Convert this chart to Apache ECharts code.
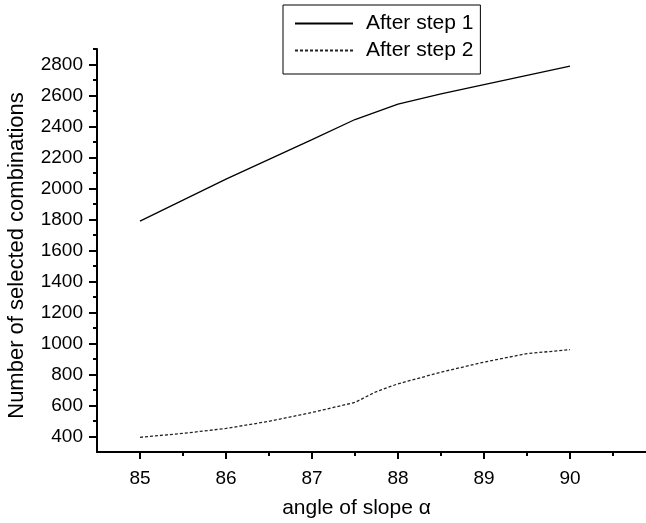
<!DOCTYPE html>
<html>
<head>
<meta charset="utf-8">
<script src="https://cdn.jsdelivr.net/npm/echarts@6/dist/echarts.min.js"></script>
<style>html,body{margin:0;padding:0;background:#fff}#chart{width:646px;height:523px}</style>
</head>
<body>
<div id="chart"></div>
<script>
// Data
const angles1 = [85, 86, 87, 87.5, 88, 88.5, 89, 89.5, 90];
const step1 = [1790, 2060, 2315, 2445, 2545, 2610, 2670, 2730, 2790];
const angles2 = [85, 85.5, 86, 86.5, 87, 87.5, 87.75, 88, 88.5, 89, 89.5, 90];
const step2 = [395, 420, 452, 498, 555, 620, 690, 740, 815, 880, 935, 960];
const xTickLabels = [85, 86, 87, 88, 89, 90];
const xMinorTicks = [85.5, 86.5, 87.5, 88.5, 89.5, 90.5];
const yTickLabels = [400, 600, 800, 1000, 1200, 1400, 1600, 1800, 2000, 2200, 2400, 2600, 2800];
const yMinorTicks = [500, 700, 900, 1100, 1300, 1500, 1700, 1900, 2100, 2300, 2500, 2700, 2900];
const seriesNames = ['After step 1', 'After step 2'];

const FONT = "'Liberation Sans', Arial, Helvetica, sans-serif";
const chart = echarts.init(document.getElementById('chart'), null, {renderer: 'canvas'});
const plain = v => String(v);
const xBase = {type: 'value', min: 84.5, max: 91, splitLine: {show: false}};
const yBase = {type: 'value', min: 300, max: 2900, splitLine: {show: false}};
chart.setOption({
  animation: false,
  backgroundColor: '#fff',
  grid: {left: 97, top: 49, width: 559, height: 403, containLabel: false, outerBoundsMode: 'none'},
  legend: {
    data: seriesNames,
    orient: 'vertical',
    left: 283, top: 5,
    padding: [8, 7, 13, 11],
    itemGap: 6,
    itemWidth: 58, itemHeight: 14,
    itemStyle: {opacity: 0},
    borderColor: '#000', borderWidth: 1,
    textStyle: {fontFamily: FONT, fontSize: 21, color: '#000', padding: [0, 0, 0, 8]}
  },
  xAxis: [
    Object.assign({}, xBase, {
      position: 'bottom',
      name: 'angle of slope α', nameLocation: 'middle', nameGap: 46,
      nameTextStyle: {fontFamily: FONT, fontSize: 21, color: '#000', padding: [0, 40, 0, 0]},
      axisLine: {show: true, onZero: false, lineStyle: {color: '#000', width: 2}},
      axisTick: {show: true, inside: false, length: 7, customValues: xTickLabels, lineStyle: {color: '#000', width: 2}},
      axisLabel: {show: true, margin: 17, customValues: xTickLabels, formatter: plain, fontFamily: FONT, fontSize: 19, color: '#000'}
    }),
    Object.assign({}, xBase, {
      position: 'bottom',
      axisLine: {show: false, onZero: false},
      axisTick: {show: true, inside: false, length: 4, customValues: xMinorTicks, lineStyle: {color: '#000', width: 2}},
      axisLabel: {show: false}
    })
  ],
  yAxis: [
    Object.assign({}, yBase, {
      position: 'left',
      name: 'Number of selected combinations', nameLocation: 'middle', nameGap: 69, nameRotate: 90,
      nameTextStyle: {fontFamily: FONT, fontSize: 22, color: '#000', padding: [0, 10, 0, 0]},
      axisLine: {show: true, onZero: false, lineStyle: {color: '#000', width: 2}},
      axisTick: {show: true, inside: false, length: 8, customValues: yTickLabels, lineStyle: {color: '#000', width: 2}},
      axisLabel: {show: true, margin: 14, customValues: yTickLabels, formatter: plain, fontFamily: FONT, fontSize: 19, color: '#000'}
    }),
    Object.assign({}, yBase, {
      position: 'left',
      axisLine: {show: false, onZero: false},
      axisTick: {show: true, inside: false, length: 4, customValues: yMinorTicks, lineStyle: {color: '#000', width: 2}},
      axisLabel: {show: false}
    })
  ],
  series: [
    {
      name: seriesNames[0], type: 'line', xAxisIndex: 0, yAxisIndex: 0,
      data: angles1.map((a, i) => [a, step1[i]]),
      symbol: 'none', lineStyle: {color: '#000', width: 1.3, type: 'solid'},
      itemStyle: {color: '#000'}
    },
    {
      name: seriesNames[1], type: 'line', xAxisIndex: 0, yAxisIndex: 0,
      data: angles2.map((a, i) => [a, step2[i]]),
      symbol: 'none', lineStyle: {color: '#222', width: 1.3, type: [3, 2]},
      itemStyle: {color: '#000'}
    }
  ]
});
</script>
</body>
</html>
